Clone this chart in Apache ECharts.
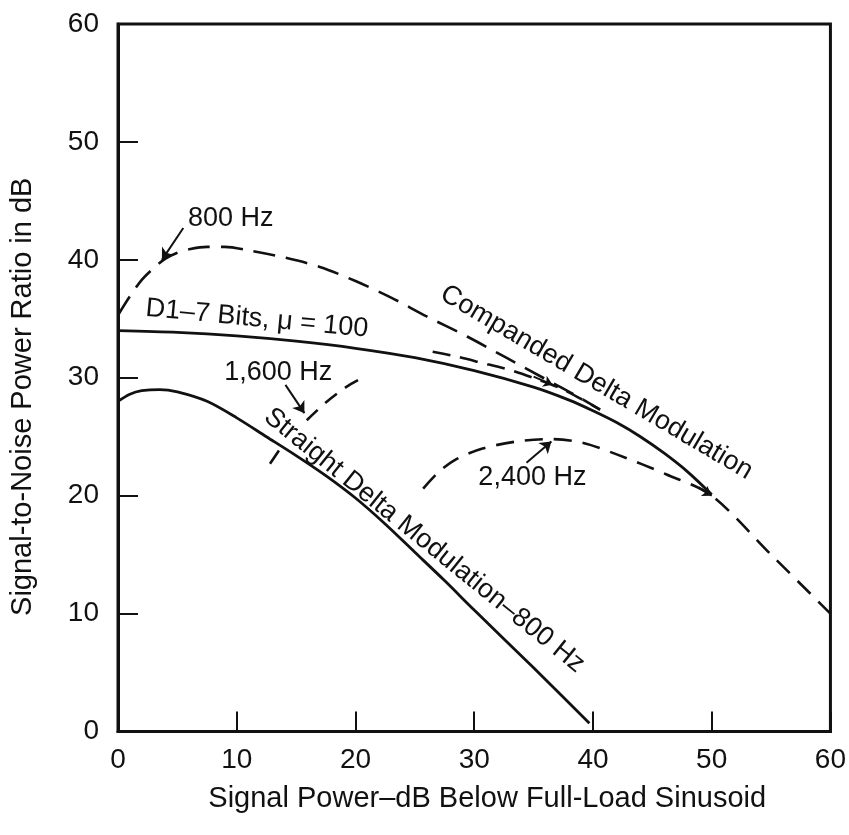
<!DOCTYPE html>
<html>
<head>
<meta charset="utf-8">
<script src="https://cdn.jsdelivr.net/npm/echarts@6/dist/echarts.min.js"></script>
<style>
  html, body { margin: 0; padding: 0; background: #fff; }
  #chart { width: 849px; height: 835px; }
</style>
</head>
<body>
<div id="chart"></div>
<script>
// Signal-to-noise ratio (dB) versus signal power (dB below full-load sinusoid)
const xTicks = [0, 10, 20, 30, 40, 50, 60];
const yTicks = [0, 10, 20, 30, 40, 50, 60];

// D1 channel bank, 7-bit mu-law (mu = 100)
const d1Bits = [
  [0, 34.0], [5, 33.85], [10, 33.55], [15, 33.1], [20, 32.5], [25, 31.7],
  [30, 30.6], [35, 29.2], [38, 28.1], [40, 27.2], [42, 26.2], [44, 25.0],
  [46, 23.6], [48, 22.0], [50, 20.1]
];

// Companded delta modulation, 800 Hz tone
const comp800 = [
  [0, 35.3], [1, 36.9], [2, 38.3], [3, 39.3], [4, 40.1], [5, 40.6], [6, 40.9],
  [7.5, 41.1], [9, 41.1], [11, 40.8], [14, 40.2], [17, 39.4], [20, 38.2],
  [23, 36.8], [26, 35.2], [29.4, 33.5], [32.7, 31.7], [35.8, 30.0],
  [38.9, 28.3], [40.6, 27.3]
];

// Companded delta modulation, 1,600 Hz tone (drawn in separate pieces)
const comp1600a = [[12.8, 22.7], [13.6, 23.9]];
const comp1600b = [[15.9, 26.4], [17.5, 27.9], [19.2, 29.2], [20.6, 30.0]];
const comp1600c = [
  [26.5, 32.2], [28.5, 31.8], [30.5, 31.3], [33.2, 30.6], [35.5, 29.8],
  [37.5, 29.0], [39.0, 28.2], [40.6, 27.3]
];

// Companded delta modulation, 2,400 Hz tone, continuing beyond the overload point
const comp2400 = [
  [25.7, 20.6], [27.0, 22.0], [28.5, 23.1], [30.7, 24.0], [33.6, 24.6],
  [36.4, 24.8], [39.1, 24.5], [42, 23.5], [46.2, 21.8], [50, 20.0],
  [55, 15.0], [60, 10.0]
];

// Straight (uncompanded) delta modulation, 800 Hz tone
const straight800 = [
  [0, 28.0], [1, 28.6], [2, 28.9], [3.5, 29.0], [5, 28.8], [7.5, 28.0],
  [10, 26.6], [12.5, 25.0], [15, 23.4], [17.5, 21.7], [20, 19.8],
  [22.5, 17.6], [25, 15.2], [27.5, 12.8], [30, 10.3], [35, 5.4], [39.7, 0.7]
];

// Pointer arrows: [from, to] in data units
const arrows = [
  [[5.5, 42.7], [3.7, 40.0]],
  [[14.1, 29.4], [15.7, 27.0]],
  [[34.4, 22.8], [36.5, 24.6]]
];
const arrowHeads = [
  [[35.0, 30.1], [36.6, 29.4]],
  [[48.9, 20.7], [50.0, 20.0]]
];

// Annotation texts: [text, x, y, rotation in degrees (clockwise)]
const notes = [
  ['800 Hz', 9.5, 43.5, 0],
  ['D1\u20137 Bits, \u03bc = 100', 11.7, 35.0, 5.4],
  ['1,600 Hz', 13.5, 30.4, 0],
  ['2,400 Hz', 34.9, 21.5, 0],
  ['Companded Delta Modulation', 40.3, 29.6, 30.5],
  ['Straight Delta Modulation\u2013800 Hz', 25.8, 16.2, 39]
];

const FONT = '"Liberation Sans", Arial, Helvetica, sans-serif';
const BLACK = '#111';

function lineSeries(name, data, dash, width) {
  return {
    name: name,
    type: 'line',
    data: data,
    smooth: 0.3,
    showSymbol: false,
    symbol: 'none',
    silent: true,
    lineStyle: { color: BLACK, width: width || 2.6, type: dash || 'solid', cap: 'butt' },
    z: 3
  };
}

function arrowSeries(name, list, size) {
  return {
    name: name,
    type: 'lines',
    coordinateSystem: 'cartesian2d',
    silent: true,
    symbol: ['none', 'arrow'],
    symbolSize: size,
    lineStyle: { color: BLACK, width: 2, opacity: 1, curveness: 0 },
    data: list.map(c => ({ coords: c })),
    z: 4
  };
}

const chart = echarts.init(document.getElementById('chart'), null, { renderer: 'canvas' });

const option = {
  backgroundColor: '#fff',
  animation: false,
  grid: {
    left: 118, right: 18, top: 24, bottom: 103.5,
    show: true, borderColor: BLACK, borderWidth: 3, backgroundColor: 'transparent'
  },
  xAxis: {
    type: 'value', min: xTicks[0], max: xTicks[xTicks.length - 1], interval: 10,
    name: 'Signal Power\u2013dB Below Full-Load Sinusoid',
    nameLocation: 'middle', nameGap: 53,
    nameTextStyle: { fontFamily: FONT, fontSize: 29, color: BLACK, padding: [0, 0, 0, 26] },
    axisLine: { show: true, lineStyle: { color: BLACK, width: 3 } },
    axisTick: { show: true, inside: true, length: 20, lineStyle: { color: BLACK, width: 2 } },
    axisLabel: { fontFamily: FONT, fontSize: 28, color: BLACK, margin: 15 },
    splitLine: { show: false }
  },
  yAxis: {
    type: 'value', min: yTicks[0], max: yTicks[yTicks.length - 1], interval: 10,
    name: 'Signal-to-Noise Power Ratio in dB',
    nameLocation: 'middle', nameGap: 81,
    nameTextStyle: { fontFamily: FONT, fontSize: 29, color: BLACK, padding: [0, 38, 0, 0] },
    axisLine: { show: true, lineStyle: { color: BLACK, width: 3 } },
    axisTick: { show: true, inside: true, length: 20, lineStyle: { color: BLACK, width: 2 } },
    axisLabel: { fontFamily: FONT, fontSize: 28, color: BLACK, margin: 19 },
    splitLine: { show: false }
  },
  series: [
    lineSeries('D1-7 Bits', d1Bits, 'solid', 2.8),
    lineSeries('Straight 800 Hz', straight800, 'solid', 2.8),
    lineSeries('Companded 800 Hz', comp800, [22, 11], 2.6),
    lineSeries('Companded 1600 Hz a', comp1600a, [16, 9], 2.6),
    lineSeries('Companded 1600 Hz b', comp1600b, [15, 10], 2.6),
    lineSeries('Companded 1600 Hz c', comp1600c, [18, 10], 2.6),
    lineSeries('Companded 2400 Hz', comp2400, [18, 11], 2.6),
    arrowSeries('pointers', arrows, 11),
    arrowSeries('heads', arrowHeads, 9)
  ]
};

chart.setOption(option);

// Place the rotated annotation texts at their data positions
const graphics = notes.map(n => {
  const p = chart.convertToPixel({ gridIndex: 0 }, [n[1], n[2]]);
  return {
    type: 'text',
    x: p[0], y: p[1],
    rotation: -n[3] * Math.PI / 180,
    style: {
      text: n[0],
      fontFamily: FONT, fontSize: 27, fill: BLACK,
      align: 'center', verticalAlign: 'middle'
    },
    z: 10
  };
});
chart.setOption({ graphic: graphics });
</script>
</body>
</html>
